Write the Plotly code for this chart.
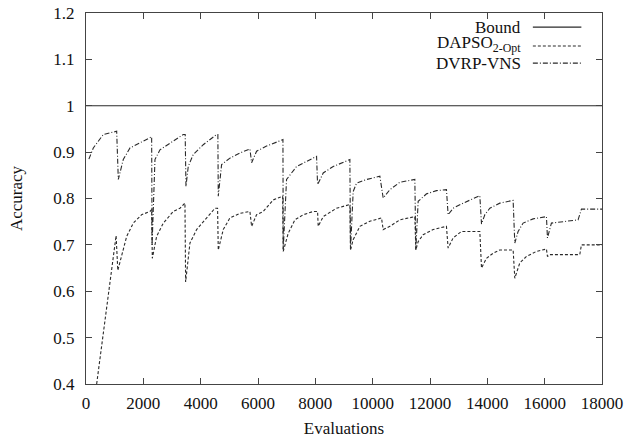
import plotly.graph_objects as go

# ---- data ----
bound_x = [0, 18000]
bound_y = [1.0, 1.0]

dapso_x = [372, 1050, 1110, 1243, 1418, 1650, 1940, 2231, 2290, 2313, 2463, 2696, 3045, 3277,
           3452, 3475, 3626, 3859, 4208, 4498, 4590, 4614, 4788, 5020, 5370, 5718, 5777, 5950,
           6183, 6532, 6860, 6880, 7054, 7287, 7578, 7927, 8078, 8100, 8275, 8740, 9205, 9227,
           9320, 9554, 9902, 10309, 10367, 10600, 10949, 11471, 11506, 11587, 11762, 12110,
           12574, 12632, 12807, 13098, 13738, 13797, 13970, 14202, 14435, 14900, 14958, 15132,
           15365, 15713, 16062, 16097, 16178, 17225, 17282, 18000]
dapso_y = [0.40, 0.72, 0.645, 0.675, 0.718, 0.747, 0.765, 0.772, 0.776, 0.671, 0.718, 0.747,
           0.772, 0.779, 0.790, 0.620, 0.704, 0.733, 0.758, 0.779, 0.779, 0.689, 0.733, 0.758,
           0.768, 0.772, 0.740, 0.765, 0.772, 0.797, 0.805, 0.686, 0.725, 0.754, 0.765, 0.772,
           0.772, 0.740, 0.761, 0.779, 0.787, 0.689, 0.711, 0.740, 0.751, 0.758, 0.733, 0.740,
           0.754, 0.761, 0.689, 0.707, 0.722, 0.733, 0.740, 0.693, 0.715, 0.729, 0.729, 0.650,
           0.671, 0.682, 0.689, 0.689, 0.628, 0.661, 0.675, 0.686, 0.691, 0.675, 0.679, 0.679,
           0.700, 0.700]

vns_x = [100, 255, 603, 1070, 1127, 1300, 1534, 2000, 2290, 2305, 2406, 2580, 2930, 3393, 3460,
         3487, 3567, 3741, 4090, 4557, 4600, 4614, 4730, 5020, 5370, 5718, 5777, 5950, 6300,
         6822, 6870, 6880, 6996, 7345, 7694, 8043, 8078, 8275, 8624, 9205, 9227, 9320, 9437,
         9786, 10251, 10367, 10600, 10949, 11471, 11506, 11587, 11878, 12226, 12574, 12632,
         12807, 13156, 13738, 13797, 13912, 14087, 14435, 14900, 14958, 15074, 15248, 15597,
         16062, 16097, 16236, 16643, 17166, 17282, 18000]
vns_y = [0.885, 0.909, 0.938, 0.945, 0.841, 0.884, 0.909, 0.923, 0.933, 0.700, 0.884, 0.905,
         0.920, 0.938, 0.938, 0.826, 0.869, 0.895, 0.916, 0.938, 0.938, 0.805, 0.873, 0.887,
         0.898, 0.907, 0.877, 0.902, 0.913, 0.927, 0.927, 0.690, 0.841, 0.869, 0.880, 0.891,
         0.830, 0.855, 0.869, 0.884, 0.690, 0.815, 0.833, 0.841, 0.848, 0.801, 0.819, 0.835,
         0.841, 0.690, 0.794, 0.810, 0.817, 0.819, 0.765, 0.779, 0.790, 0.806, 0.745, 0.765,
         0.779, 0.790, 0.796, 0.704, 0.729, 0.747, 0.756, 0.761, 0.715, 0.747, 0.750, 0.754,
         0.777, 0.777]

legend_names = ["Bound", "DAPSO<sub>2-Opt</sub>", "DVRP-VNS"]
x_ticks = [0, 2000, 4000, 6000, 8000, 10000, 12000, 14000, 16000, 18000]
y_ticks = [0.4, 0.5, 0.6, 0.7, 0.8, 0.9, 1.0, 1.1, 1.2]
y_tick_text = ["0.4", "0.5", "0.6", "0.7", "0.8", "0.9", "1", "1.1", "1.2"]

LC = "#2a2a2a"
TC = "#111111"
FONT = "Liberation Serif, Times New Roman, serif"
dashes = ["solid", "3px,2px", "5px,2px,1px,2px"]

fig = go.Figure()
for (xs, ys, d, nm) in [(bound_x, bound_y, dashes[0], legend_names[0]),
                        (dapso_x, dapso_y, dashes[1], legend_names[1]),
                        (vns_x, vns_y, dashes[2], legend_names[2])]:
    fig.add_trace(go.Scatter(x=xs, y=ys, mode="lines", name=nm, showlegend=False,
                             line=dict(color=LC, width=1.1, dash=d)))

# gnuplot-style key: right-aligned text, sample line to the right
key_text_y = [0.960, 0.917, 0.864]
key_line_y = [0.962, 0.911, 0.865]
for nm, ty, ly, d in zip(legend_names, key_text_y, key_line_y, dashes):
    fig.add_annotation(x=0.846, y=ty, xref="paper", yref="paper", text=nm,
                       xanchor="right", yanchor="middle", showarrow=False,
                       font=dict(family=FONT, size=17, color=TC))
    fig.add_shape(type="line", xref="paper", yref="paper", x0=0.866, x1=0.960, y0=ly, y1=ly,
                  line=dict(color=LC, width=1.1, dash=d))

axis_common = dict(showline=True, linecolor="#444", linewidth=1.2, mirror="ticks",
                   ticks="inside", ticklen=6, tickcolor="#444", showgrid=False, zeroline=False,
                   automargin=False, tickfont=dict(family=FONT, size=17, color=TC))

fig.update_xaxes(range=[0, 18000], tickvals=x_ticks, ticktext=[str(v) for v in x_ticks],
                 ticklabelstandoff=3,
                 title=dict(text="Evaluations", font=dict(family=FONT, size=17, color=TC),
                            standoff=10), **axis_common)
fig.update_yaxes(range=[0.4, 1.2], tickvals=y_ticks, ticktext=y_tick_text,
                 ticklabelstandoff=7,
                 title=dict(text="Accuracy", font=dict(family=FONT, size=17, color=TC),
                            standoff=26), **axis_common)

fig.update_layout(width=629, height=439, margin=dict(l=86, r=27, t=13, b=55),
                  font=dict(family=FONT, size=17, color=TC),
                  plot_bgcolor="white", paper_bgcolor="white")

fig.write_html("out.html", config={"displayModeBar": False},
               post_script="document.body.style.margin='0';document.body.style.overflow='hidden';")
